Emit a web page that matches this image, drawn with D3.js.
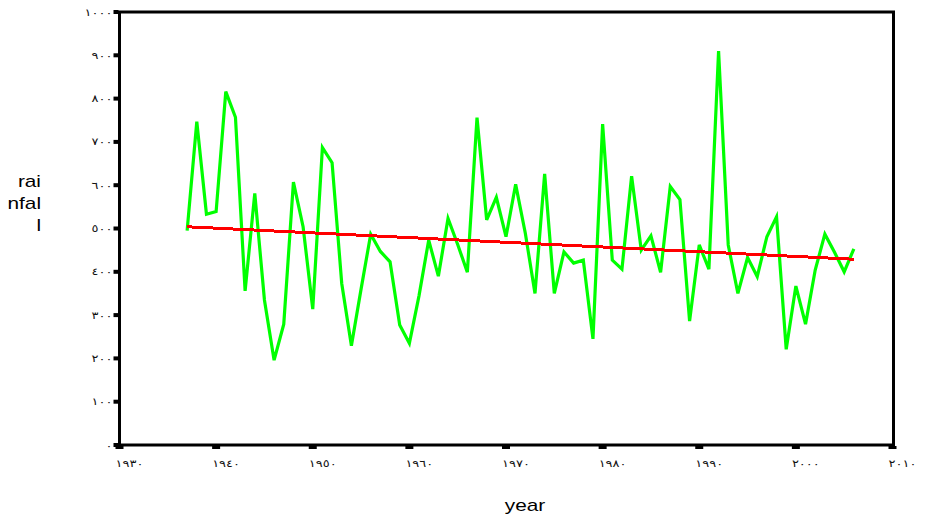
<!DOCTYPE html>
<html>
<head>
<meta charset="utf-8">
<script src="https://cdn.jsdelivr.net/npm/d3@7"></script>
<style>
  html, body { margin: 0; padding: 0; background: #fff; }
  svg { display: block; }
  .tick-label { font-family: "DejaVu Sans", sans-serif; font-size: 10px; letter-spacing: 3.8px; fill: #111; }
  .axis-title { font-family: "Liberation Sans", Arial, sans-serif; font-size: 16px; fill: #000; }
</style>
</head>
<body>
<script>
// ---- data ----
const years = d3.range(1937, 2007);
const rainfall = [
  495, 747, 533, 539, 816, 757, 356, 581, 335, 196,
  279, 607, 504, 314, 687, 652, 373, 229, 360, 487,
  447, 423, 277, 235, 345, 473, 390, 523, 463, 399,
  756, 520, 572, 481, 602, 489, 350, 626, 350, 446,
  420, 427, 245, 741, 427, 406, 621, 450, 483, 399,
  597, 567, 286, 462, 406, 910, 462, 350, 433, 389,
  481, 527, 221, 367, 279, 404, 487, 445, 400, 453
];
const trendYears = [1937, 2006];
const trendValues = [504, 429];
const xTickValues = [1930, 1940, 1950, 1960, 1970, 1980, 1990, 2000, 2010];
const xTickLabels = ["١٩٣٠", "١٩٤٠", "١٩٥٠", "١٩٦٠", "١٩٧٠", "١٩٨٠", "١٩٩٠", "٢٠٠٠", "٢٠١٠"];
const yTickValues = [0, 100, 200, 300, 400, 500, 600, 700, 800, 900, 1000];
const yTickLabels = ["٠", "١٠٠", "٢٠٠", "٣٠٠", "٤٠٠", "٥٠٠", "٦٠٠", "٧٠٠", "٨٠٠", "٩٠٠", "١٠٠٠"];
const yTitleLines = ["rai", "nfal", "l"];
const xTitle = "year";

// ---- layout ----
const W = 936, H = 517;
const mLeft = 119.5, mRight = 892.5, mTop = 12, mBottom = 445;
const stretch = 1.3; // text in the reference is horizontally widened

const svg = d3.select("body").append("svg").attr("width", W).attr("height", H);

const x = d3.scaleLinear().domain([1930, 2010]).range([mLeft, mRight]);
const y = d3.scaleLinear().domain([0, 1000]).range([mBottom, mTop]);

// frame
svg.append("rect")
  .attr("x", mLeft).attr("y", mTop)
  .attr("width", x(2010) + 1 - mLeft).attr("height", mBottom - mTop)
  .attr("fill", "none").attr("stroke", "#000").attr("stroke-width", 3);

// y ticks (small squares) and labels
const yTickIdx = d3.range(yTickValues.length);
svg.append("g").selectAll("rect").data(yTickIdx).join("rect")
  .attr("x", mLeft - 6).attr("y", i => y(yTickValues[i]) - 2)
  .attr("width", 5).attr("height", 4).attr("fill", "#000");
svg.append("g").selectAll("text").data(yTickIdx).join("text")
  .attr("class", "tick-label")
  .attr("transform", i => `translate(${mLeft - 7},${y(yTickValues[i])}) scale(${stretch},1)`)
  .attr("dy", "0.35em").attr("text-anchor", "end")
  .text(i => yTickLabels[i]);

// x ticks and labels
const xTickIdx = d3.range(xTickValues.length);
svg.append("g").selectAll("rect").data(xTickIdx).join("rect")
  .attr("x", i => x(xTickValues[i]) - 4).attr("y", mBottom + 1)
  .attr("width", 8).attr("height", 3).attr("fill", "#000");
svg.append("g").selectAll("text").data(xTickIdx).join("text")
  .attr("class", "tick-label")
  .attr("transform", i => `translate(${x(xTickValues[i]) - 4},467) scale(${stretch},1)`)
  .attr("text-anchor", "start")
  .text(i => xTickLabels[i]);

// rainfall line
const line = d3.line().x(d => x(d[0])).y(d => y(d[1]));
svg.append("path")
  .datum(years.map((yr, i) => [yr, rainfall[i]]))
  .attr("d", line)
  .attr("fill", "none").attr("stroke", "#00ff00").attr("stroke-width", 3.2);

// trend line
svg.append("path")
  .datum(trendYears.map((yr, i) => [yr, trendValues[i]]))
  .attr("d", line)
  .attr("fill", "none").attr("stroke", "#ff0000").attr("stroke-width", 3)
  .attr("shape-rendering", "crispEdges");

// axis titles
svg.append("g").selectAll("text").data(yTitleLines).join("text")
  .attr("class", "axis-title")
  .attr("transform", (d, i) => `translate(41,${187 + i * 22}) scale(${stretch},1)`)
  .attr("text-anchor", "end")
  .text(d => d);
svg.append("text").attr("class", "axis-title")
  .attr("transform", `translate(525,511) scale(${stretch},1)`)
  .attr("text-anchor", "middle")
  .text(xTitle);
</script>
</body>
</html>
